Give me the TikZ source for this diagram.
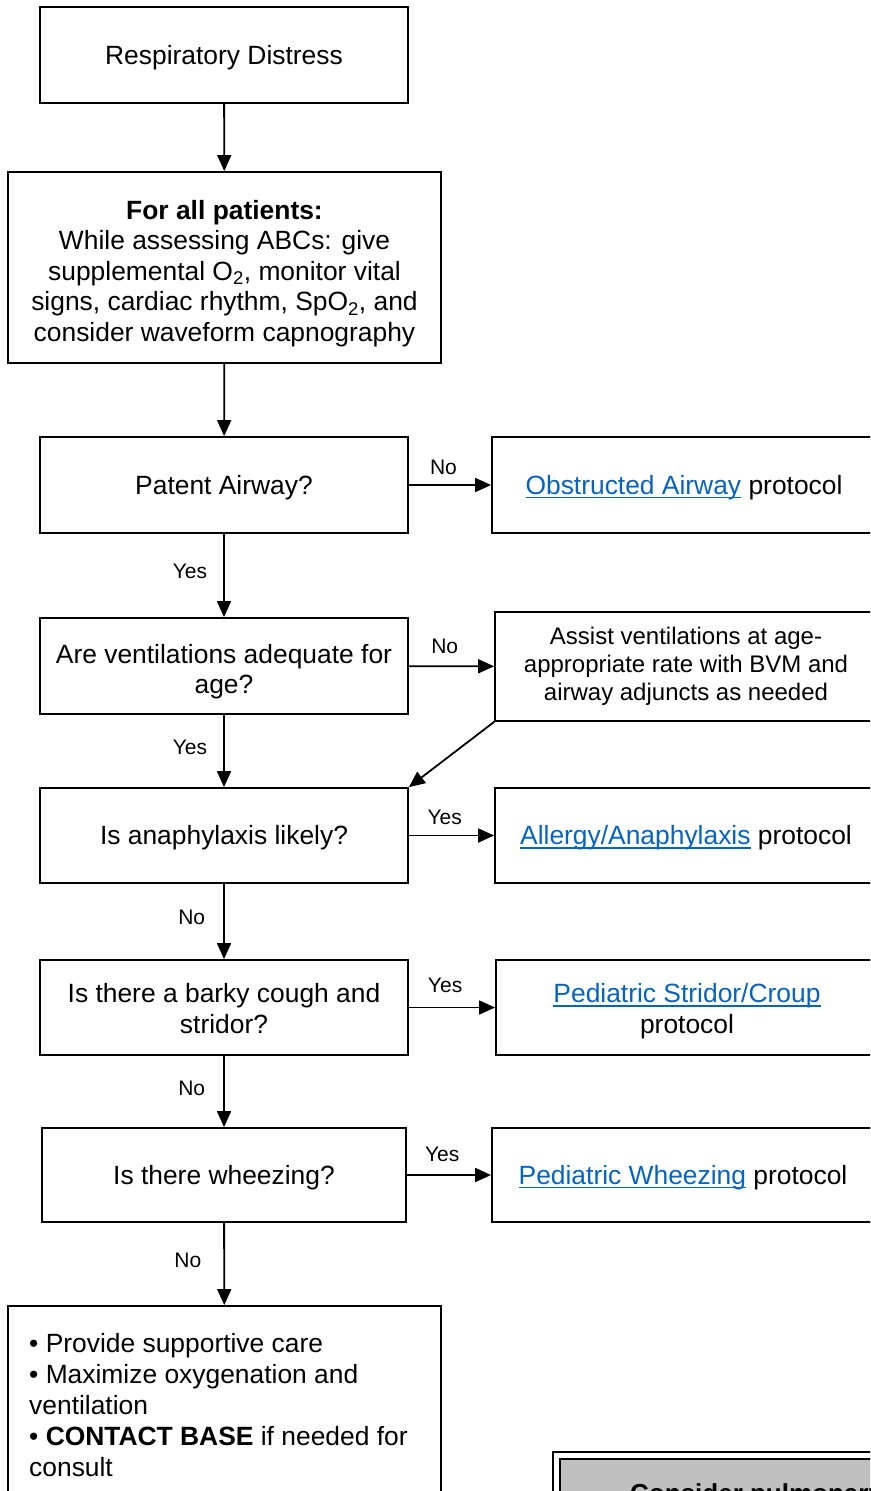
\documentclass[tikz,border=0pt]{standalone}
\usepackage{fontspec}
\setmainfont{Liberation Sans}
\usetikzlibrary{arrows.meta}
\definecolor{linkblue}{HTML}{0563C1}
\definecolor{boxgray}{HTML}{C0C0C0}
\newcommand{\lnk}[1]{\textcolor{linkblue}{\setbox0\hbox{#1}\rlap{\rule[-4pt]{\wd0}{1.6pt}}\box0}}
\newcommand{\tst}[1]{\rule{0pt}{\dimexpr 0.905em+#1\relax}}
\newcommand{\bst}{\rule[-0.212em]{0pt}{0pt}}
\begin{document}
\begin{tikzpicture}[x=1pt,y=-1pt,
  box/.style={draw, line width=1.8pt, align=center, inner sep=0pt, font=\fontsize{26.4}{30.5}\selectfont,
    execute at begin node={\rule{0pt}{0.905em}}, execute at end node={\rule[-0.212em]{0pt}{0pt}}},
  arr/.style={line width=1.8pt, -{Triangle[length=16pt,width=14pt]}},
  lab/.style={font=\fontsize{21}{24}\selectfont, inner sep=0pt}]
\useasboundingbox (0,0) rectangle (870,1491);
\clip (0,0) rectangle (870,1491);
% left column
\node[box, minimum width=368, minimum height=96] (b1) at (224,55) {Respiratory Distress};
\node[box, minimum width=433, minimum height=191] (b2) at (224.5,267.5)
  {\tst{7.4pt}\textbf{For all patients:}\\While assessing ABCs: give\\supplemental O\textsubscript{2}, monitor vital\\signs, cardiac rhythm, SpO\textsubscript{2}, and\\consider waveform capnography\bst};
\node[box, minimum width=368, minimum height=96] (b3) at (224,485) {Patent Airway?};
\node[box, minimum width=368, minimum height=96] (b4) at (224,666) {\tst{6.4pt}Are ventilations adequate for\\age?\bst};
\node[box, minimum width=368, minimum height=95] (b5) at (224,835.5) {Is anaphylaxis likely?};
\node[box, minimum width=368, minimum height=95] (b6) at (224,1007.5) {\tst{3pt}Is there a barky cough and\\stridor?\bst};
\node[box, minimum width=364, minimum height=94] (b7) at (224,1175) {Is there wheezing?};
\node[draw, line width=1.8pt, inner sep=0pt, minimum width=433, minimum height=240] (b8) at (224.5,1426) {};
\node[anchor=north west, align=left, inner sep=0pt, font=\fontsize{26.4}{31}\selectfont] (b8t) at (29,1333)
  {\textbullet\ Provide supportive care\\\textbullet\ Maximize oxygenation and\\ventilation\\\textbullet\ \textbf{CONTACT BASE} if needed for\\consult};
% right column
\node[box, minimum width=384, minimum height=96] (r1) at (684,485) {\lnk{Obstructed Airway} protocol};
\node[box, minimum width=382, minimum height=109, font=\fontsize{24}{28}\selectfont] (r2) at (686,666.5)
  {Assist ventilations at age-\\appropriate rate with BVM and\\airway adjuncts as needed};
\node[box, minimum width=382, minimum height=95] (r3) at (686,835.5) {\lnk{Allergy/Anaphylaxis} protocol};
\node[box, minimum width=382, minimum height=95] (r4) at (687,1007.5) {\tst{2.4pt}\lnk{Pediatric Stridor/Croup}\\protocol\bst};
\node[box, minimum width=382, minimum height=94] (r5) at (683,1175) {\lnk{Pediatric Wheezing} protocol};
% bottom-right double box
\draw[line width=1.8pt, fill=white] (553,1452) rectangle (900,1560);
\node[draw, line width=1.8pt, fill=boxgray, inner sep=0pt, minimum width=341, minimum height=100, anchor=north west] (br) at (559,1458) {};
\node[anchor=base west, inner sep=0pt, font=\fontsize{26}{30}\selectfont\bfseries] (brt) at (630,1502) {Consider pulmonary};
% connectors
\draw[arr] (b1) -- (b2);
\draw[arr] (b2) -- (b3);
\draw[arr] (b3) -- node[lab, above=9pt, pos=0.42] {No} (r1);
\draw[arr] (b3) -- node[lab, left=16pt, pos=0.45] {Yes} (b4);
\draw[arr] (b4) -- node[lab, above=12pt, pos=0.42] {No} (r2);
\draw[arr] (b4) -- node[lab, left=16pt, pos=0.45] {Yes} (b5);
\draw[arr] (r2.south west) -- (b5.north east);
\draw[arr] (b5) -- node[lab, above=10pt, pos=0.42] {Yes} (r3);
\draw[arr] (b5) -- node[lab, left=18pt, pos=0.45] {No} (b6);
\draw[arr] (b6) -- node[lab, above=14pt, pos=0.42] {Yes} (r4);
\draw[arr] (b6) -- node[lab, left=18pt, pos=0.45] {No} (b7);
\draw[arr] (b7) -- node[lab, above=12pt, pos=0.42] {Yes} (r5);
\draw[arr] (b7) -- node[lab, left=22pt, pos=0.45] {No} (b8);
\end{tikzpicture}
\end{document}
